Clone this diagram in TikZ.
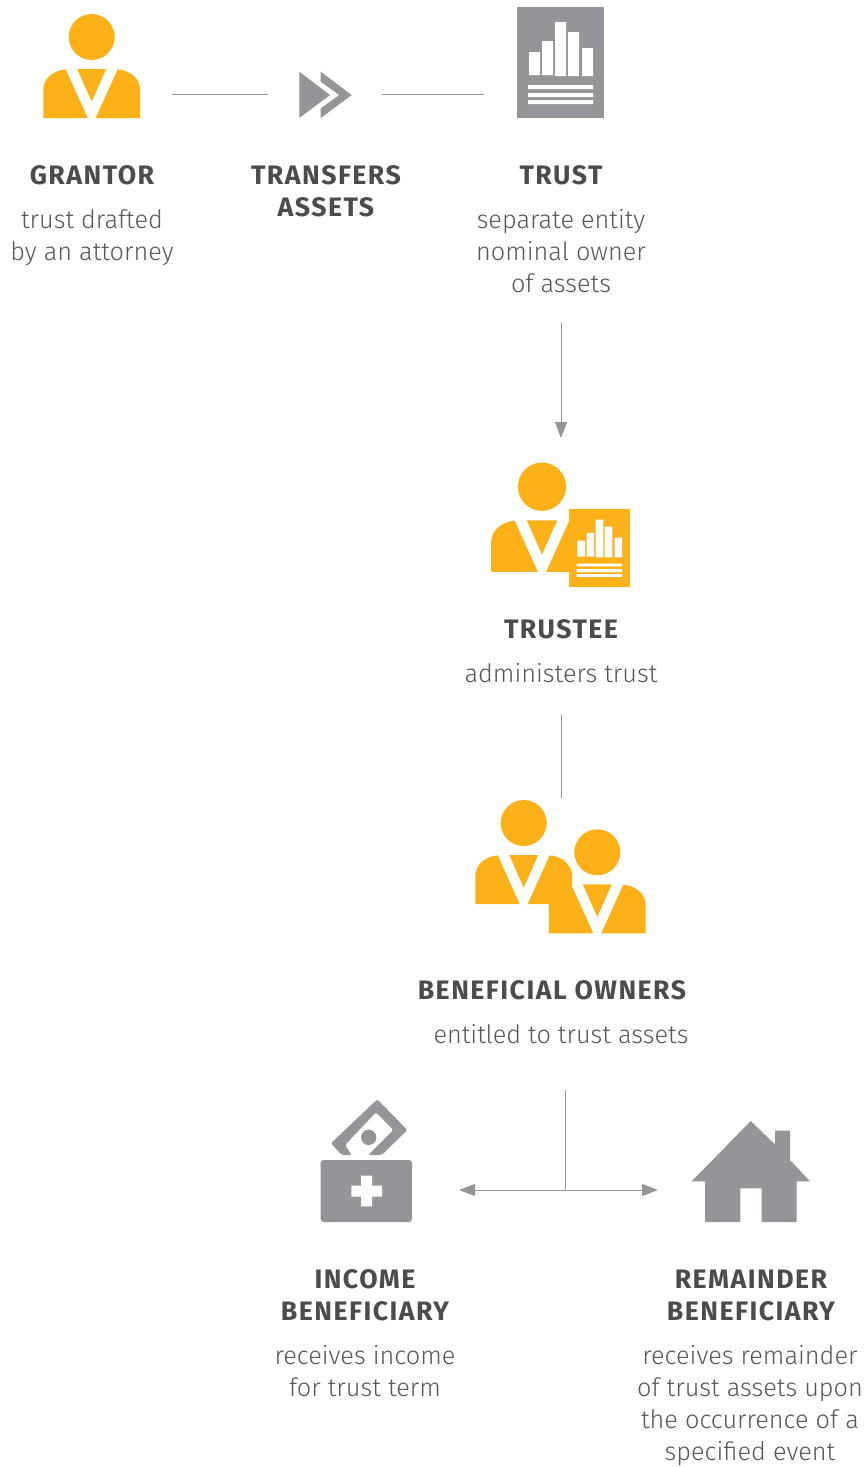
\documentclass[tikz,border=0pt]{standalone}
\usepackage{fontspec}
\setmainfont{Fira Sans Light}[BoldFont={Fira Sans Bold}]
\newfontface\headface{Fira Sans Bold}[LetterSpace=5.5]
\usetikzlibrary{arrows.meta}
\definecolor{gold}{HTML}{FCB118}
\definecolor{slate}{HTML}{939598}
\definecolor{headink}{HTML}{4A4C50}
\definecolor{bodyink}{HTML}{55565A}
\tikzset{
    head/.style={inner sep=0pt,anchor=north,align=center,text=headink,font=\fontsize{26.7}{32}\headface,execute at begin node=\strut},
    body/.style={inner sep=0pt,anchor=north,align=center,text=bodyink,font=\fontsize{25.3}{32}\selectfont,execute at begin node=\strut},
    wire/.style={draw=slate,line width=1pt},
    tip/.style={-{Triangle[length=16pt,width=12pt]}},
    pics/person/.style={code={
        \fill[gold] (0,0) circle[radius=23];
        \fill[gold] (-48.4,81) -- (-48.4,53) .. controls (-48.4,41) and (-38,33.5) .. (-26,32.3) -- (-4,81) -- cycle;
        \fill[gold] (48.4,81) -- (48.4,53) .. controls (48.4,41) and (38,33.5) .. (26,32.3) -- (4,81) -- cycle;
        \fill[gold] (-14.5,32) -- (14.5,32) -- (0,64.7) -- cycle;
    }},
    pics/report/.style={code={
        \fill[#1] (0,0) rectangle (87,111);
        \fill[white] (12,45) rectangle (23,68) (25,34) rectangle (36,68) (38,15) rectangle (49,69)
            (51,25) rectangle (62,69) (65,41) rectangle (76,69);
        \fill[white] (11,78) rectangle (76,82) (11,86) rectangle (76,90) (11,93) rectangle (76,97);
    }},
}
\begin{document}
\begin{tikzpicture}[x=1pt,y=-1pt]
\useasboundingbox (0,0) rectangle (865,1467);
% icons
\pic (grantoricon) at (91.7,37) {person};
\fill[slate] (299.3,71.7) -- (330,95) -- (299.3,118) -- cycle;
\fill[slate] (320.7,71.7) -- (351.7,95) -- (320.7,118) -- (320.7,108.3) -- (339.3,95) -- (320.7,81.7) -- cycle;
\pic (trusticon) at (517,7) {report=slate};
\pic[scale=1.05] (trusteeicon) at (542,486.7) {person};
\pic[scale=0.7] (trusteedoc) at (569,509) {report=gold};
\pic (ownerone) at (523.7,823) {person};
\fill[white] (570.6,885) -- (593.3,933) -- (601.3,933) -- (578,885) -- cycle;
\pic (ownertwo) at (597.3,852.3) {person};
% money box
\fill[slate,rounded corners=2pt] (331,1143.3) -- (377.3,1099.3) -- (407.3,1130) -- (381.7,1155) -- (368.3,1155)
    -- (393.3,1130) -- (376,1112.3) -- (345,1145) -- (351.7,1155) -- (341.7,1155) -- cycle;
\fill[slate] (368.7,1137.3) circle[radius=7.7];
\fill[slate,rounded corners=3pt] (320.7,1160) rectangle (412,1222);
\fill[white] (361.2,1175.7) rectangle (372.2,1206.4) (351.3,1185.5) rectangle (382,1196.5);
% house
\fill[slate] (750.7,1121) -- (775,1144.3) -- (775,1130.7) -- (790,1130.7) -- (790,1160) -- (810,1181.3)
    -- (796.7,1181.3) -- (796.7,1222) -- (761.7,1222) -- (761.7,1188.3) -- (740.3,1188.3) -- (740.3,1222)
    -- (705,1222) -- (705,1181.3) -- (691.7,1181.3) -- cycle;
% labels
\node[head] (grantor) at (92,161.6) {GRANTOR};
\node[body] (grantortxt) at (92,209.6) {trust drafted\\by an attorney};
\node[head] (transfers) at (326,165.6) {TRANSFERS\\ASSETS};
\node[head] (trust) at (561,161.6) {TRUST};
\node[body] (trusttxt) at (561,209.6) {separate entity\\nominal owner\\of assets};
\node[head] (trustee) at (561,615.6) {TRUSTEE};
\node[body] (trusteetxt) at (561,659.6) {administers trust};
\node[head] (owners) at (552,976.6) {BENEFICIAL OWNERS};
\node[body] (ownerstxt) at (561,1020.6) {entitled to trust assets};
\node[head] (income) at (365,1269.6) {INCOME\\BENEFICIARY};
\node[body] (incometxt) at (365,1345.6) {receives income\\for trust term};
\node[head] (remainder) at (751,1269.6) {REMAINDER\\BENEFICIARY};
\node[body] (remaindertxt) at (750,1345.6) {receives remainder\\of trust assets upon\\the occurrence of a\\specified event};
% connectors
\coordinate (grantorend) at (172,94);
\coordinate (chevronin) at (268,94);
\coordinate (chevronout) at (382,94);
\coordinate (trustin) at (484,94);
\coordinate (trustbelow) at (561,323);
\coordinate (trusteeabove) at (561,438);
\coordinate (trusteebelow) at (561,715);
\coordinate (ownersabove) at (561,798);
\coordinate (ownersbelow) at (565.5,1090);
\coordinate (split) at (565.5,1190);
\coordinate (incomeend) at (459,1190);
\coordinate (remainderend) at (658,1190);
\draw[wire] (grantorend) -- (chevronin);
\draw[wire] (chevronout) -- (trustin);
\draw[wire,tip] (trustbelow) -- (trusteeabove);
\draw[wire] (trusteebelow) -- (ownersabove);
\draw[wire] (ownersbelow) -- (split);
\draw[wire,tip] (split) -- (incomeend);
\draw[wire,tip] (split) -- (remainderend);
\end{tikzpicture}
\end{document}
